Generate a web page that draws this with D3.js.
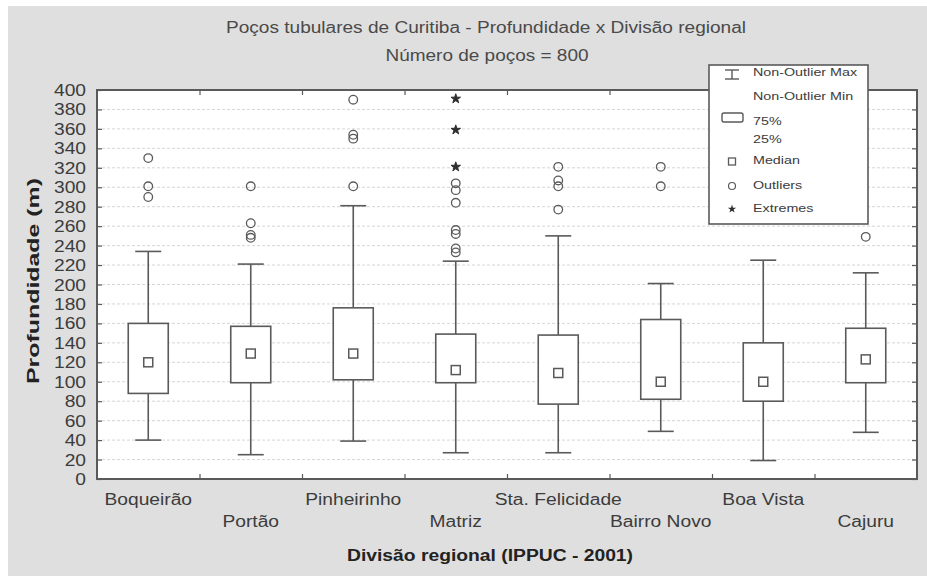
<!DOCTYPE html>
<html>
<head>
<meta charset="utf-8">
<script src="https://cdn.jsdelivr.net/npm/d3@7"></script>
<style>
  html, body { margin: 0; padding: 0; background: #ffffff; }
  svg { display: block; }
  text { font-family: "Liberation Sans", Arial, sans-serif; }
</style>
</head>
<body>
<script>
// Box-plot summary per regional division (depth in metres)
const categories = ["Boqueirão", "Portão", "Pinheirinho", "Matriz", "Sta. Felicidade", "Bairro Novo", "Boa Vista", "Cajuru"];
const whiskerMin = [40, 25, 39, 27, 27, 49, 19, 48];
const q1 = [88, 99, 102, 99, 77, 82, 80, 99];
const median = [120, 129, 129, 112, 109, 100, 100, 123];
const q3 = [160, 157, 176, 149, 148, 164, 140, 155];
const whiskerMax = [234, 221, 281, 224, 250, 201, 225, 212];
const outliers = [
  [330, 301, 290],
  [301, 263, 251, 248],
  [390, 354, 350, 301],
  [304, 297, 284, 256, 252, 237, 233],
  [321, 307, 301, 277],
  [321, 301],
  [],
  [249]
];
const extremes = [[], [], [], [391, 359, 321], [], [], [], []];
const yTicks = d3.range(0, 401, 20);
const legendItems = ["Non-Outlier Max", "Non-Outlier Min", "75%", "25%", "Median", "Outliers", "Extremes"];

const W = 927, H = 576;
const plot = { left: 97, right: 917, top: 90, bottom: 479 };
const ink = "#5a5a5a";
const textInk = "#3c3c3c";

const svg = d3.select("body").append("svg").attr("width", W).attr("height", H);

// panel background
svg.append("rect").attr("x", 8).attr("y", 6).attr("width", W - 8).attr("height", H - 6).attr("fill", "#dfdfdf");

const x = d3.scaleBand().domain(categories).range([plot.left, plot.right]).padding(0);
const y = d3.scaleLinear().domain([0, 400]).range([plot.bottom, plot.top]);

// text helper: horizontally widened glyphs (either by factor or to a set length)
function label(g, str, opts) {
  const t = g.append("text")
    .attr("x", opts.x).attr("y", opts.y)
    .attr("text-anchor", opts.anchor || "middle")
    .attr("font-size", opts.size)
    .attr("font-weight", opts.weight || "normal")
    .attr("fill", opts.fill || textInk)
    .attr("transform", opts.transform || null)
    .text(str);
  const w = t.node().getComputedTextLength();
  const len = opts.length || w * (opts.stretch || 1.2);
  t.attr("textLength", len).attr("lengthAdjust", "spacingAndGlyphs");
  return t;
}

// plot area
svg.append("rect")
  .attr("x", plot.left).attr("y", plot.top)
  .attr("width", plot.right - plot.left).attr("height", plot.bottom - plot.top)
  .attr("fill", "#ffffff");

// grid lines
svg.append("g").selectAll("line")
  .data(yTicks.filter(v => v > 0 && v < 400))
  .join("line")
  .attr("x1", plot.left).attr("x2", plot.right)
  .attr("y1", d => y(d)).attr("y2", d => y(d))
  .attr("stroke", "#d6d6d6").attr("stroke-width", 1)
  .attr("stroke-dasharray", "3,2");

// axes with inward ticks
const yLeft = svg.append("g").attr("transform", `translate(${plot.left},0)`)
  .call(d3.axisLeft(y).tickValues(yTicks).tickSize(-5).tickFormat(""));
const yRight = svg.append("g").attr("transform", `translate(${plot.right},0)`)
  .call(d3.axisRight(y).tickValues(yTicks).tickSize(-5).tickFormat(""));
const bounds = categories.slice(1).map(c => x(c));
const pos = d3.scaleLinear().domain([plot.left, plot.right]).range([plot.left, plot.right]);
const xBottom = svg.append("g").attr("transform", `translate(0,${plot.bottom})`)
  .call(d3.axisBottom(pos).tickValues(bounds).tickSize(-5).tickFormat(""));
const xTop = svg.append("g").attr("transform", `translate(0,${plot.top})`)
  .call(d3.axisTop(pos).tickValues(bounds).tickSize(-5).tickFormat(""));
[yLeft, yRight, xBottom, xTop].forEach(a => {
  a.select(".domain").remove();
  a.selectAll(".tick line").attr("stroke", ink).attr("stroke-width", 1.2);
});

// y tick labels
const yl = svg.append("g");
yTicks.forEach(v => label(yl, String(v), { x: 86, y: y(v) + 6, anchor: "end", size: 16, stretch: 1.2 }));

// frame
svg.append("rect")
  .attr("x", plot.left).attr("y", plot.top)
  .attr("width", plot.right - plot.left).attr("height", plot.bottom - plot.top)
  .attr("fill", "none").attr("stroke", ink).attr("stroke-width", 2);

// boxes
const boxW = 40, capW = 26;
const boxes = svg.append("g");
categories.forEach((c, i) => {
  const cx = x(c) + x.bandwidth() / 2;
  const g = boxes.append("g");
  const ln = (x1, y1, x2, y2) => g.append("line").attr("x1", x1).attr("y1", y1).attr("x2", x2).attr("y2", y2)
    .attr("stroke", ink).attr("stroke-width", 1.6);
  ln(cx, y(whiskerMax[i]), cx, y(q3[i]));
  ln(cx, y(q1[i]), cx, y(whiskerMin[i]));
  ln(cx - capW / 2, y(whiskerMax[i]), cx + capW / 2, y(whiskerMax[i]));
  ln(cx - capW / 2, y(whiskerMin[i]), cx + capW / 2, y(whiskerMin[i]));
  g.append("rect")
    .attr("x", cx - boxW / 2).attr("y", y(q3[i]))
    .attr("width", boxW).attr("height", y(q1[i]) - y(q3[i]))
    .attr("fill", "#ffffff").attr("stroke", ink).attr("stroke-width", 1.6);
  g.append("rect")
    .attr("x", cx - 4.5).attr("y", y(median[i]) - 4.5)
    .attr("width", 9).attr("height", 9)
    .attr("fill", "#ffffff").attr("stroke", ink).attr("stroke-width", 1.5);
  g.selectAll("circle.out").data(outliers[i]).join("circle")
    .attr("class", "out")
    .attr("cx", cx).attr("cy", d => y(d)).attr("r", 4.3)
    .attr("fill", "none").attr("stroke", ink).attr("stroke-width", 1.3);
  g.selectAll("path.ext").data(extremes[i]).join("path")
    .attr("class", "ext")
    .attr("transform", d => `translate(${cx},${y(d)})`)
    .attr("d", d3.symbol(d3.symbolStar, 28)())
    .attr("fill", "#2e2e2e").attr("stroke", "#2e2e2e").attr("stroke-width", 1);
});

// x category labels (staggered rows)
const xl = svg.append("g");
categories.forEach((c, i) => {
  label(xl, c, { x: x(c) + x.bandwidth() / 2, y: i % 2 === 0 ? 505 : 527, size: 16, stretch: 1.2 });
});

// titles
const tg = svg.append("g");
label(tg, "Poços tubulares de Curitiba - Profundidade x Divisão regional", { x: 486, y: 33, size: 16, fill: "#4a4a4a", length: 520 });
label(tg, "Número de poços = 800", { x: 487, y: 61, size: 16, fill: "#4a4a4a", length: 203 });
label(tg, "Divisão regional (IPPUC - 2001)", { x: 490, y: 561, size: 16, weight: "bold", fill: "#222222", length: 286 });
label(tg, "Profundidade (m)", { x: 0, y: 0, size: 16, weight: "bold", fill: "#222222", length: 206,
  transform: "translate(39,281) rotate(-90)" });

// legend
const lg = svg.append("g");
lg.append("rect").attr("x", 709).attr("y", 65).attr("width", 159).attr("height", 159)
  .attr("fill", "#ffffff").attr("stroke", ink).attr("stroke-width", 1.6);
const sx = 732, tx = 753;
const lline = (x1, y1, x2, y2) => lg.append("line").attr("x1", x1).attr("y1", y1).attr("x2", x2).attr("y2", y2)
  .attr("stroke", ink).attr("stroke-width", 1.4);
lline(sx - 7, 70, sx + 7, 70);
lline(sx, 70, sx, 79);
lline(sx - 7, 79, sx + 7, 79);
lg.append("rect").attr("x", 722).attr("y", 113).attr("width", 21).attr("height", 9).attr("rx", 2)
  .attr("fill", "#ffffff").attr("stroke", ink).attr("stroke-width", 1.4);
lg.append("rect").attr("x", sx - 3.5).attr("y", 158).attr("width", 7).attr("height", 7)
  .attr("fill", "#ffffff").attr("stroke", ink).attr("stroke-width", 1.3);
lg.append("circle").attr("cx", sx).attr("cy", 186).attr("r", 3.5)
  .attr("fill", "none").attr("stroke", ink).attr("stroke-width", 1.2);
lg.append("path").attr("transform", `translate(${sx},209)`).attr("d", d3.symbol(d3.symbolStar, 22)())
  .attr("fill", "#2e2e2e");
const ly = [76, 100, 125, 143, 164, 189, 212];
legendItems.forEach((s, i) => label(lg, s, { x: tx, y: ly[i], anchor: "start", size: 11, stretch: 1.3 }));
</script>
</body>
</html>
